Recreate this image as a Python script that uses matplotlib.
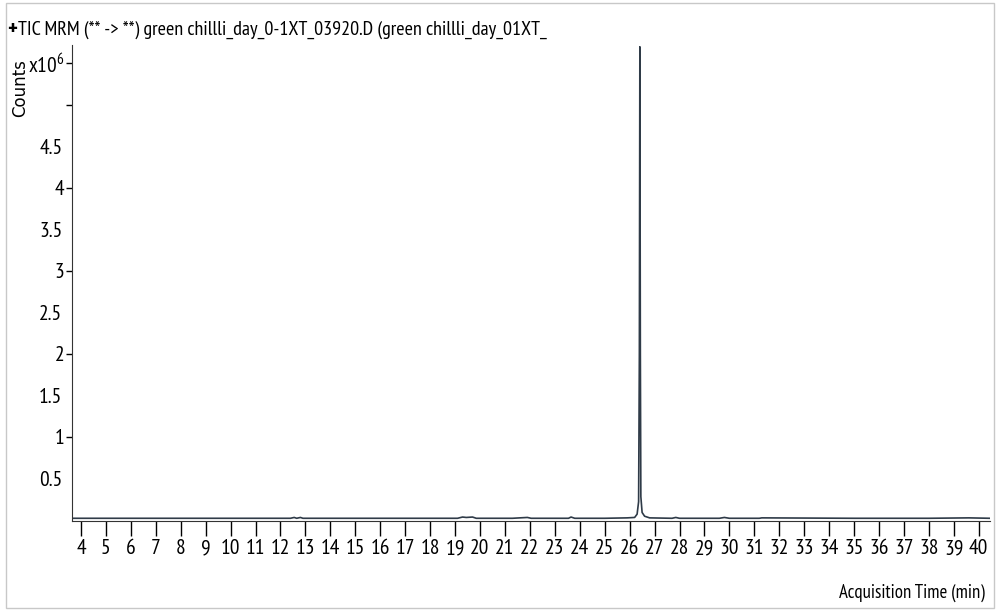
import matplotlib
matplotlib.use("Agg")
import matplotlib.pyplot as plt
from matplotlib.patches import Rectangle
from matplotlib.ticker import FixedLocator, FixedFormatter

# trace (time in min, counts in 1e6)
times = [3.64, 5.0, 8.0, 12.4, 12.55, 12.65, 12.8, 12.9, 13.1, 16.0,
         19.1, 19.3, 19.45, 19.7, 19.85, 21.3, 21.9, 22.05, 22.3, 23.55,
         23.65, 23.8, 25.0, 25.9, 26.2, 26.3, 26.36, 26.39, 26.41, 26.43,
         26.45, 26.5, 26.6, 26.8, 27.7, 27.85, 28.0, 29.6, 29.8, 30.0,
         31.2, 31.3, 35.0, 38.0, 39.6, 40.45]
counts = [0.02, 0.02, 0.02, 0.02, 0.03, 0.02, 0.03, 0.02, 0.02, 0.02,
          0.02, 0.035, 0.03, 0.035, 0.02, 0.02, 0.03, 0.02, 0.02, 0.02,
          0.035, 0.02, 0.02, 0.025, 0.03, 0.07, 0.22, 2.0, 5.7, 2.0,
          0.28, 0.09, 0.045, 0.025, 0.02, 0.03, 0.02, 0.02, 0.03, 0.02,
          0.02, 0.025, 0.02, 0.02, 0.025, 0.02]

x_ticks = list(range(4, 41))
y_major = [1, 2, 3, 4, 5, 5.5]
y_major_labels = ["1", "2", "3", "4", "", "x10$^6$"]
y_minor = [0.5, 1.5, 2.5, 3.5, 4.5]
y_minor_labels = ["0.5", "1.5", "2.5", "3.5", "4.5"]

narrow = "PT Sans Narrow"
plt.rcParams["mathtext.fontset"] = "custom"
plt.rcParams["mathtext.rm"] = narrow

fig = plt.figure(figsize=(10, 6.1), dpi=100)
ax = fig.add_axes([0.072, 0.146, 0.918, 0.78])

ax.plot(times, counts, color="#2f3b48", lw=1.2)
ax.set_xlim(3.64, 40.45)
ax.set_ylim(-0.012, 5.72)

ax.spines["top"].set_visible(False)
ax.spines["right"].set_visible(False)
ax.spines["left"].set_color("#333333")
ax.spines["bottom"].set_color("#333333")

ax.set_xticks(x_ticks)
ax.set_xticklabels([str(t) for t in x_ticks], fontsize=15.5, family=narrow)
ax.tick_params(axis="x", direction="out", length=11, width=1, pad=2)

ax.yaxis.set_major_locator(FixedLocator(y_major))
ax.yaxis.set_major_formatter(FixedFormatter(y_major_labels))
ax.yaxis.set_minor_locator(FixedLocator(y_minor))
ax.yaxis.set_minor_formatter(FixedFormatter(y_minor_labels))
ax.tick_params(axis="y", which="major", direction="out", length=4.5, width=1, pad=1, labelsize=15.5)
ax.tick_params(axis="y", which="minor", length=0, pad=7, labelsize=15.5)
for lab in ax.get_yticklabels(which="both"):
    lab.set_family(narrow)

fig.text(0.007, 0.951, "+", fontsize=16, fontweight="bold", family=narrow, va="center", ha="left")
fig.text(0.0175, 0.951, "TIC MRM (** -> **) green chillli_day_0-1XT_03920.D (green chillli_day_01XT_",
         fontsize=14.5, family=narrow, va="center", ha="left")
fig.text(0.02, 0.855, "Counts", rotation=90, fontsize=12, va="center", ha="center")
fig.text(0.985, 0.028, "Acquisition Time (min)", fontsize=13.5, family=narrow,
         va="center", ha="right")

fig.patches.append(Rectangle((0.006, 0.004), 0.988, 0.991, transform=fig.transFigure,
                             fill=False, edgecolor="#c8c8c8", lw=1))

fig.savefig("out.png", dpi=100)
